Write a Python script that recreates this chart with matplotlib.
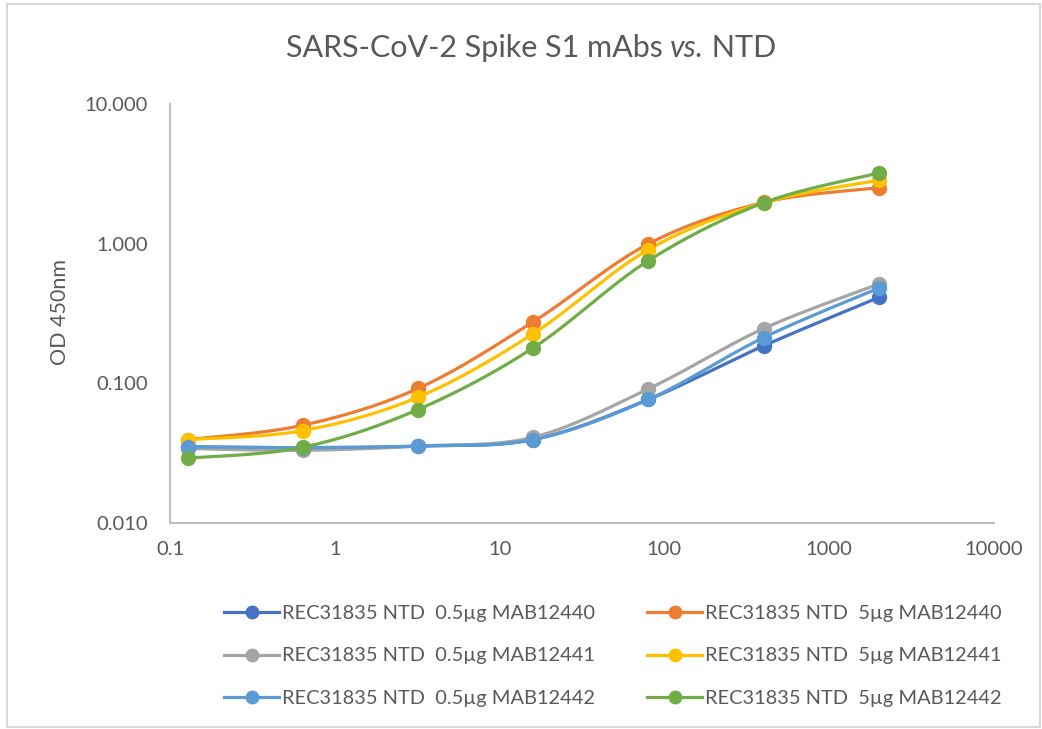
import numpy as np
import matplotlib
matplotlib.use("Agg")
import matplotlib.pyplot as plt
from matplotlib.patches import Rectangle

# ---- data ----
conc = [2000, 400, 80, 16, 3.2, 0.64, 0.128]
labels = [
    "REC31835 NTD  0.5µg MAB12440",
    "REC31835 NTD  5µg MAB12440",
    "REC31835 NTD  0.5µg MAB12441",
    "REC31835 NTD  5µg MAB12441",
    "REC31835 NTD  0.5µg MAB12442",
    "REC31835 NTD  5µg MAB12442",
]
od_05_12440 = [0.411, 0.185, 0.0764, 0.0394, 0.0354, 0.0345, 0.035]
od_5_12440 = [2.51, 1.97, 0.995, 0.275, 0.0916, 0.0499, 0.0394]
od_05_12441 = [0.513, 0.246, 0.091, 0.041, 0.0354, 0.0330, 0.034]
od_5_12441 = [2.84, 1.96, 0.905, 0.226, 0.0793, 0.0457, 0.0394]
od_05_12442 = [0.48, 0.212, 0.0764, 0.0394, 0.0354, 0.0345, 0.035]
od_5_12442 = [3.2, 1.96, 0.755, 0.179, 0.0647, 0.0347, 0.029]
series = [od_05_12440, od_5_12440, od_05_12441, od_5_12441, od_05_12442, od_5_12442]
colors = ["#4472C4", "#ED7D31", "#A5A5A5", "#FFC000", "#5B9BD5", "#70AD47"]
xticks = [0.1, 1, 10, 100, 1000, 10000]
xticklabels = ["0.1", "1", "10", "100", "1000", "10000"]
yticks = [0.01, 0.1, 1, 10]
yticklabels = ["0.010", "0.100", "1.000", "10.000"]
title_parts = ["SARS-CoV-2 Spike S1 mAbs ", "vs.", " NTD"]

FONT = "Lato"
plt.rcParams["font.family"] = [FONT, "DejaVu Sans"]
TXT = "#595959"


def smooth(xs, ys, n=30):
    """Bezier smoothing in log-log space (like Excel smoothed lines)."""
    order = np.argsort(xs)
    lx = np.log10(np.asarray(xs, float)[order])
    ly = np.log10(np.asarray(ys, float)[order])
    P = np.column_stack([lx, ly])
    out = [P[0]]
    m = len(P)
    for i in range(m - 1):
        p0 = P[i - 1] if i > 0 else P[i]
        p1 = P[i]
        p2 = P[i + 1]
        p3 = P[i + 2] if i + 2 < m else P[i + 1]
        c1 = p1 + (p2 - p0) / 6.0
        c2 = p2 - (p3 - p1) / 6.0
        t = np.linspace(0, 1, n)[1:, None]
        seg = ((1 - t) ** 3) * p1 + 3 * ((1 - t) ** 2) * t * c1 + 3 * (1 - t) * t ** 2 * c2 + t ** 3 * p2
        out.extend(seg)
    out = np.array(out)
    return 10 ** out[:, 0], 10 ** out[:, 1]


W, H = 1042, 729
fig = plt.figure(figsize=(W / 100, H / 100), dpi=100)
fig.patches.append(Rectangle((7 / W, 2 / H), 1033 / W, 723 / H,
                             transform=fig.transFigure, fill=False,
                             edgecolor="#D9D9D9", linewidth=1.5))
ax = fig.add_axes([170 / W, 1 - 522.7 / H, (994 - 170) / W, (522.7 - 104) / H])
ax.set_xscale("log")
ax.set_yscale("log")

handles = []
for ys, c, lab in zip(series, colors, labels):
    sx, sy = smooth(conc, ys)
    ax.plot(sx, sy, color=c, lw=2.3, solid_capstyle="round", zorder=2)
    ax.plot(conc, ys, "o", color=c, ms=10, zorder=3)
    h, = ax.plot([], [], color=c, lw=2.3, marker="o", ms=9, label=lab)
    handles.append(h)

ax.set_xlim(0.1, 10000)
ax.set_ylim(0.01, 10)
ax.set_xticks(xticks)
ax.set_xticklabels(xticklabels)
ax.set_yticks(yticks)
ax.set_yticklabels(yticklabels)
ax.minorticks_off()
ax.tick_params(axis="both", length=0, labelsize=14.5, labelcolor=TXT)
ax.tick_params(axis="x", pad=13)
ax.tick_params(axis="y", pad=16)
for s in ["top", "right"]:
    ax.spines[s].set_visible(False)
for s in ["left", "bottom"]:
    ax.spines[s].set_color("#BFBFBF")
    ax.spines[s].set_linewidth(1.5)

fig.text(60 / W, 1 - 312 / H, "OD 450nm", fontsize=15.5, color=TXT,
         rotation=90, ha="center", va="center")

# title with italic "vs."
renderer = fig.canvas.get_renderer()
styles = ["normal", "italic", "normal"]
texts = []
for part, st in zip(title_parts, styles):
    texts.append(fig.text(0, 1 - 48 / H, part, fontsize=22, color=TXT, style=st,
                          ha="left", va="center"))
widths = [t.get_window_extent(renderer).width for t in texts]
total = sum(widths)
x0 = 531 - total / 2
for t, w in zip(texts, widths):
    t.set_x(x0 / W)
    x0 += w

leg_kw = dict(frameon=False, fontsize=14.4, labelcolor=TXT, handlelength=2.75,
              handletextpad=0.15, labelspacing=1.28, borderpad=0, borderaxespad=0)
leg1 = fig.legend([handles[0], handles[2], handles[4]], [labels[0], labels[2], labels[4]],
                  loc="center left", bbox_to_anchor=(224 / W, 1 - 656 / H), **leg_kw)
leg2 = fig.legend([handles[1], handles[3], handles[5]], [labels[1], labels[3], labels[5]],
                  loc="center left", bbox_to_anchor=(647 / W, 1 - 656 / H), **leg_kw)

fig.savefig("out.png", dpi=100)
